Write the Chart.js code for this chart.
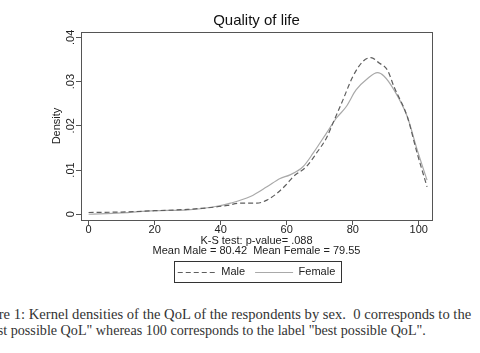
<!DOCTYPE html>
<html>
<head>
<meta charset="utf-8">
<script src="https://cdn.jsdelivr.net/npm/chart.js@4"></script>
<style>
  body { margin: 0; background: #fff; width: 480px; height: 353px; overflow: hidden; position: relative; }
  canvas { position: absolute; left: 0; top: 0; }
  .caption {
    position: absolute; white-space: nowrap;
    font-family: "Liberation Serif", "DejaVu Serif", serif;
    line-height: 16px; color: #333;
  }
</style>
</head>
<body>
<canvas id="qol" width="480" height="290"></canvas>
<div class="caption" style="left:-28px; top:306px; font-size:14.6px">Figure 1: Kernel densities of the QoL of the respondents by sex.&nbsp; 0 corresponds to the</div>
<div class="caption" style="left:-30px; top:322px; font-size:14.15px">"worst possible QoL" whereas 100 corresponds to the label "best possible QoL".</div>
<script>
// values
const maleQ = [0, 10, 20, 30, 38, 42, 46, 51, 54, 57, 60, 62, 66, 69, 72, 74, 77, 80, 83, 85.5, 88, 90.5, 92.5, 96.5, 99.5, 102.5];
const maleD = [0.0004, 0.0005, 0.0008, 0.0011, 0.0016, 0.002, 0.0025, 0.0025, 0.0032, 0.0047, 0.0068, 0.0085, 0.0108, 0.0138, 0.0172, 0.0206, 0.0258, 0.0311, 0.0345, 0.0354, 0.0342, 0.0326, 0.0288, 0.0221, 0.0138, 0.0062];
const femaleQ = [0, 10, 20, 30, 38, 43, 49, 54, 58, 61, 65, 68, 72, 75, 78, 81, 84.5, 87.5, 89.5, 92.5, 96.5, 99.5, 102.5];
const femaleD = [0.0000, 0.0003, 0.0008, 0.001, 0.0017, 0.0025, 0.004, 0.0062, 0.0081, 0.0089, 0.0108, 0.0138, 0.0183, 0.0217, 0.0243, 0.0281, 0.0307, 0.032, 0.0312, 0.0281, 0.0221, 0.0146, 0.0077];
const xTicks = [0, 20, 40, 60, 80, 100];
const yTicks = [0, 0.01, 0.02, 0.03, 0.04];
const notes = ['K-S test: p-value= .088', 'Mean Male = 80.42  Mean Female = 79.55'];

const font = 'Liberation Sans, Arial, sans-serif';
const ink = '#222';

// box round the plot region and round the legend, Stata style;
// legend keys drawn here too so the dash shows
const frames = {
  id: 'frames',
  afterDraw(chart) {
    const { ctx, chartArea: a, legend } = chart;
    ctx.save();
    ctx.strokeStyle = '#555';
    ctx.lineWidth = 1;
    ctx.strokeRect(Math.round(a.left) + 0.5, Math.round(a.top) + 0.5,
      Math.round(a.right - a.left), Math.round(a.bottom - a.top));
    const hb = legend.legendHitBoxes;
    if (hb && hb.length) {
      const l = hb[0].left - 4;
      const r = hb[hb.length - 1].left + hb[hb.length - 1].width + 5;
      const cy = hb[0].top + hb[0].height / 2;
      ctx.strokeStyle = '#333';
      ctx.strokeRect(Math.round(l) + 0.5, Math.round(cy - 10.5) + 0.5, Math.round(r - l), 21);
      hb.forEach((b, i) => {
        const ds = chart.data.datasets[i];
        ctx.strokeStyle = ds.borderColor;
        ctx.lineWidth = ds.borderWidth;
        ctx.setLineDash(ds.borderDash || []);
        ctx.beginPath();
        ctx.moveTo(b.left, Math.round(cy) + 0.5);
        ctx.lineTo(b.left + 38, Math.round(cy) + 0.5);
        ctx.stroke();
      });
    }
    ctx.restore();
  }
};

new Chart(document.getElementById('qol'), {
  type: 'line',
  data: {
    datasets: [{
      label: 'Male',
      data: maleQ.map((q, i) => ({ x: q, y: maleD[i] })),
      borderColor: '#5e5e5e',
      borderWidth: 1.2,
      borderDash: [5, 3],
      pointRadius: 0,
      cubicInterpolationMode: 'monotone'
    }, {
      label: 'Female',
      data: femaleQ.map((q, i) => ({ x: q, y: femaleD[i] })),
      borderColor: '#a9a9a9',
      borderWidth: 1.2,
      pointRadius: 0,
      cubicInterpolationMode: 'monotone'
    }]
  },
  plugins: [frames],
  options: {
    responsive: false,
    animation: false,
    layout: { padding: { left: 0, right: 48, top: 0, bottom: 3 } },
    scales: {
      x: {
        type: 'linear',
        min: -2.3,
        max: 104,
        afterBuildTicks: s => { s.ticks = xTicks.map(v => ({ value: v })); },
        afterFit: s => { s.height = 36; },
        grid: { drawOnChartArea: false, tickLength: 5, color: '#555' },
        border: { display: false },
        ticks: { color: ink, font: { family: font, size: 11 }, padding: -1.5, maxRotation: 0 },
        title: {
          display: true, text: notes, color: ink,
          font: { family: font, size: 11, lineHeight: 0.9 },
          padding: { top: 0, bottom: 0 }
        }
      },
      y: {
        min: -0.0013,
        max: 0.0412,
        afterBuildTicks: s => { s.ticks = yTicks.map(v => ({ value: v })); },
        afterFit: s => { s.width = 81; },
        grid: { drawOnChartArea: false, tickLength: 5, color: '#555' },
        border: { display: false },
        ticks: {
          color: ink, font: { family: font, size: 11 },
          minRotation: 90, maxRotation: 90, crossAlign: 'center', padding: -3,
          callback: v => v === 0 ? '0' : v.toFixed(2).replace(/^0/, '')
        },
        title: {
          display: true, text: 'Density', color: ink,
          font: { family: font, size: 11 },
          padding: { top: 50, bottom: 0 }
        }
      }
    },
    plugins: {
      title: {
        display: true, text: 'Quality of life', color: '#111', fullSize: false,
        font: { family: font, size: 15, weight: 'normal' },
        padding: { top: 12, bottom: 2 }
      },
      legend: {
        position: 'bottom', fullSize: false,
        labels: {
          color: ink, font: { family: font, size: 11 },
          usePointStyle: true, pointStyle: 'line', pointStyleWidth: 38,
          boxHeight: 11, padding: 10,
          generateLabels: chart => Chart.defaults.plugins.legend.labels.generateLabels(chart)
            .map(it => Object.assign(it, { strokeStyle: 'rgba(0,0,0,0)', fillStyle: 'rgba(0,0,0,0)' }))
        }
      },
      tooltip: { enabled: false }
    }
  }
});
</script>
</body>
</html>
